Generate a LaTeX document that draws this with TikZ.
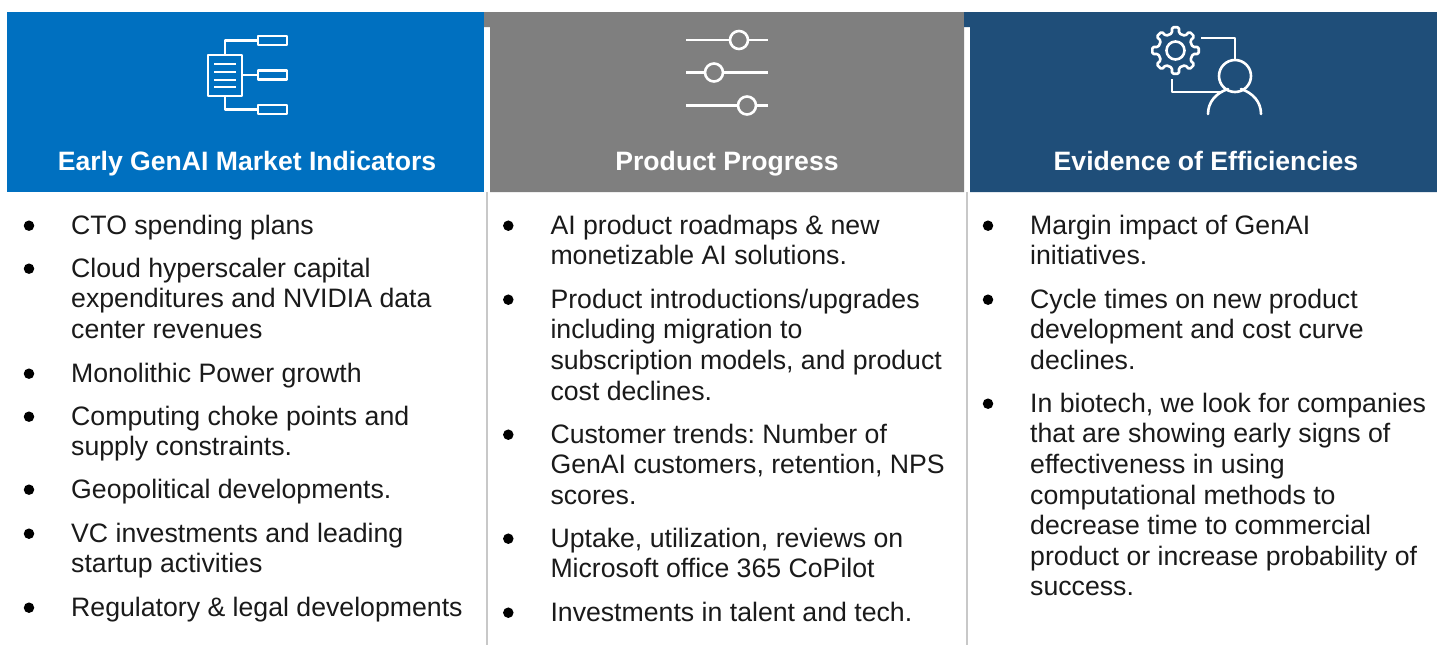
\documentclass[tikz,border=0pt]{standalone}
\usepackage{fontspec}
\setmainfont{Liberation Sans}
\frenchspacing
\definecolor{hblue}{HTML}{0070C0}
\definecolor{hgray}{HTML}{7F7F7F}
\definecolor{hnavy}{HTML}{1F4E79}
\definecolor{rulegray}{HTML}{C8C8C8}
\definecolor{bodyink}{HTML}{1A1A1A}
\tikzset{
  x=1pt,y=-1pt,
  band/.style={fill=#1,draw=none},
  rulel/.style={draw=rulegray,line width=2pt},
  icon/.style={draw=white,line width=2.6pt,line join=round},
  hdr/.style={text=white,font=\fontsize{26.6}{30}\selectfont\bfseries,inner sep=0pt,anchor=base},
  item/.style={text=bodyink,font=\fontsize{26.67}{30.55}\selectfont,inner sep=0pt,anchor=north west,align=left},
  dot/.style={circle,fill=black,draw=none,minimum size=10.5pt,inner sep=0pt},
}
\newcommand{\fs}{\rule{0pt}{20pt}}
% \bul{name}{text x}{first baseline}{text}
\newcommand{\bul}[4]{%
  \node[dot] (d#1) at (#2-42,#3-8.3) {};
  \node[item] (t#1) at (#2,#3-19.8) {\fs #4};
}
\begin{document}
\begin{tikzpicture}
\useasboundingbox (0,0) rectangle (1437,645);
\fill[white] (0,0) rectangle (1437,645);
% bands
\path[band=hblue] (7,12) rectangle (484,192);
\path[band=hgray] (484,12) -- (964,12) -- (964,192) -- (490,192) -- (490,27) -- (484,27) -- cycle;
\path[band=hnavy] (964,12) -- (1437,12) -- (1437,192) -- (970,192) -- (970,27) -- (964,27) -- cycle;
\draw[rulel] (487,192) -- (487,645);
\draw[rulel] (967,192) -- (967,645);
% headers
\node[hdr] (h1) at (247,170) {Early GenAI Market Indicators};
\node[hdr] (h2) at (727,170) {Product Progress};
\node[hdr] (h3) at (1206,170) {Evidence of Efficiencies};
% icon 1
\draw[icon] (208,55) rectangle (242,96);
\foreach \yy in {64,72,79.5,87} \draw[icon,line width=2pt] (214,\yy) -- (236,\yy);
\foreach \yy in {40.5,75,109.5} \draw[icon] (258,\yy-4.5) rectangle (287,\yy+4.5);
\draw[icon] (225,55) -- (225,40.5) -- (258,40.5);
\draw[icon] (242,75) -- (258,75);
\draw[icon] (225,96) -- (225,109.5) -- (258,109.5);
% icon 2
\foreach \yy/\xx in {40/739,72.5/714,105.5/747}{
  \draw[icon] (686,\yy) -- (768,\yy);
  \draw[icon,fill=hgray] (\xx,\yy) circle (9);
}
% icon 3
\draw[icon,rounded corners=1.6pt] ({1175.5+17.5*cos(-22.5)},{50.5-17.5*sin(-22.5)})
  \foreach \a in {0,45,...,315}{
    -- ({1175.5+17.5*cos(\a-11)},{50.5-17.5*sin(\a-11)})
    -- ({1175.5+23.5*cos(\a-9)},{50.5-23.5*sin(\a-9)})
    -- ({1175.5+23.5*cos(\a+9)},{50.5-23.5*sin(\a+9)})
    -- ({1175.5+17.5*cos(\a+11)},{50.5-17.5*sin(\a+11)})
  } -- cycle;
\draw[icon] (1175.5,50.5) circle (9);
\draw[icon] (1201,38) -- (1235,38) -- (1235,60);
\draw[icon] (1172,79) -- (1172,92) -- (1220,92);
\draw[icon] (1235,76) circle (16);
\draw[icon,line cap=round] (1208,114) .. controls (1208,102) and (1216,93) .. (1228,89);
\draw[icon,line cap=round] (1261,114) .. controls (1261,102) and (1253,93) .. (1241,89);
% column 1
\bul{a1}{71}{234}{CTO spending plans}
\bul{a2}{71}{277}{Cloud hyperscaler capital\\expenditures and NVIDIA data\\center revenues}
\bul{a3}{71}{382}{Monolithic Power growth}
\bul{a4}{71}{425}{Computing choke points and\\supply constraints.}
\bul{a5}{71}{498}{Geopolitical developments.}
\bul{a6}{71}{542}{VC investments and leading\\startup activities}
\bul{a7}{71}{616}{Regulatory \& legal developments}
% column 2
\bul{b1}{550.3}{234}{AI product roadmaps \& new\\monetizable AI solutions.}
\bul{b2}{550.3}{308}{Product introductions/upgrades\\including migration to\\subscription models, and product\\cost declines.}
\bul{b3}{550.3}{443}{Customer trends: Number of\\GenAI customers, retention, NPS\\scores.}
\bul{b4}{550.3}{547}{Uptake, utilization, reviews on\\Microsoft office 365 CoPilot}
\bul{b5}{550.3}{621}{Investments in talent and tech.}
% column 3
\bul{c1}{1030}{234}{Margin impact of GenAI\\initiatives.}
\bul{c2}{1030}{308}{Cycle times on new product\\development and cost curve\\declines.}
\bul{c3}{1030}{412}{In biotech, we look for companies\\that are showing early signs of\\effectiveness in using\\computational methods to\\decrease time to commercial\\product or increase probability of\\success.}
\end{tikzpicture}
\end{document}
